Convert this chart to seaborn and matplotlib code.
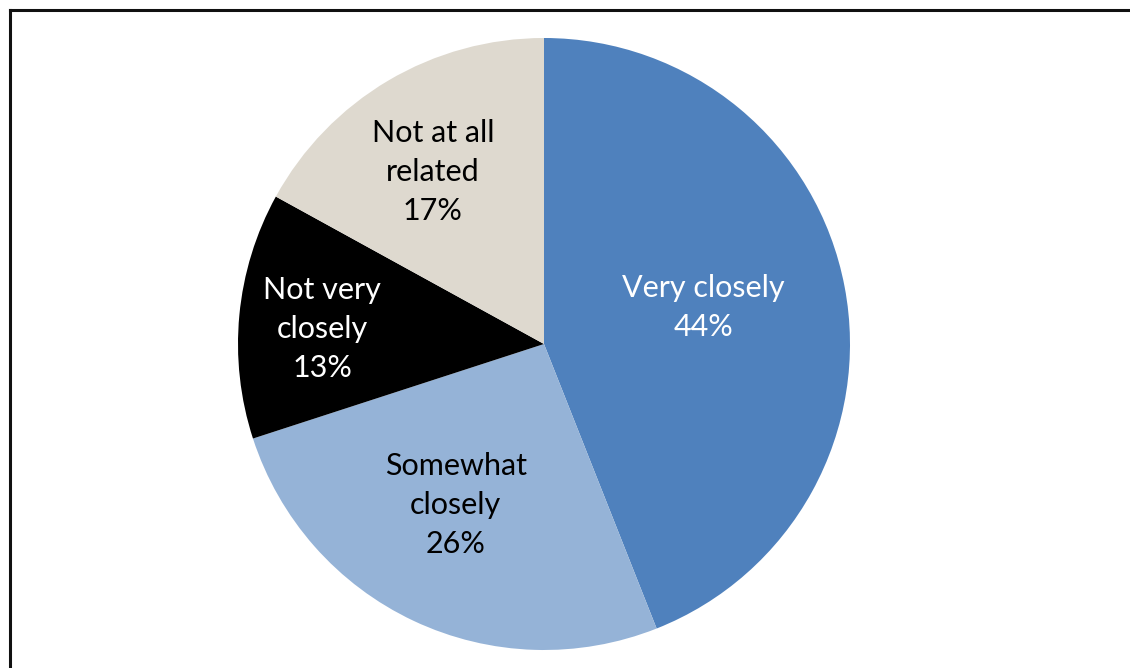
import numpy as np
import matplotlib
matplotlib.use("Agg")
import matplotlib.pyplot as plt
import seaborn as sns
from matplotlib.lines import Line2D

categories = ["Very closely", "Somewhat closely", "Not very closely", "Not at all related"]
label_lines = ["Very closely", "Somewhat\nclosely", "Not very\nclosely", "Not at all\nrelated"]
shares = [44, 26, 13, 17]

sns.set_theme(style="white")
plt.rcParams["font.family"] = ["Lato", "DejaVu Sans"]

colors = ["#4F81BD", "#95B3D7", "#000000", "#DED9CF"]
text_colors = ["white", "black", "white", "black"]
# label placement: radial distance and angular nudge from each wedge's middle
label_radius = [0.533, 0.600, 0.727, 0.669]
label_turn = [2.0, -3.5, 1.5, 2.3]

W, H = 1130, 668
fig = plt.figure(figsize=(W / 100, H / 100), dpi=100)
cx, cy, r = 544, 344, 306
ax = fig.add_axes([(cx - r) / W, (H - cy - r) / H, 2 * r / W, 2 * r / H])

wedges, _ = ax.pie(shares, colors=colors, startangle=90, counterclock=False,
                   wedgeprops=dict(linewidth=0))
ax.set_xlim(-1, 1)
ax.set_ylim(-1, 1)
ax.set_aspect("equal")

for w, lbl, val, tc, rf, dt in zip(wedges, label_lines, shares, text_colors,
                                   label_radius, label_turn):
    ang = np.deg2rad((w.theta1 + w.theta2) / 2 + dt)
    ax.text(rf * np.cos(ang), rf * np.sin(ang), f"{lbl}\n{val}%",
            ha="center", va="center", color=tc, fontsize=22, linespacing=1.47)

# outer frame (left and top edges)
fig.add_artist(Line2D([9.5 / W, 9.5 / W], [0, 1 - 10 / H], transform=fig.transFigure,
                      color="#111111", linewidth=2.2, solid_capstyle="projecting"))
fig.add_artist(Line2D([9.5 / W, 1], [1 - 10 / H, 1 - 10 / H], transform=fig.transFigure,
                      color="#111111", linewidth=2.2, solid_capstyle="projecting"))

fig.savefig("out.png", dpi=100, facecolor="white")
